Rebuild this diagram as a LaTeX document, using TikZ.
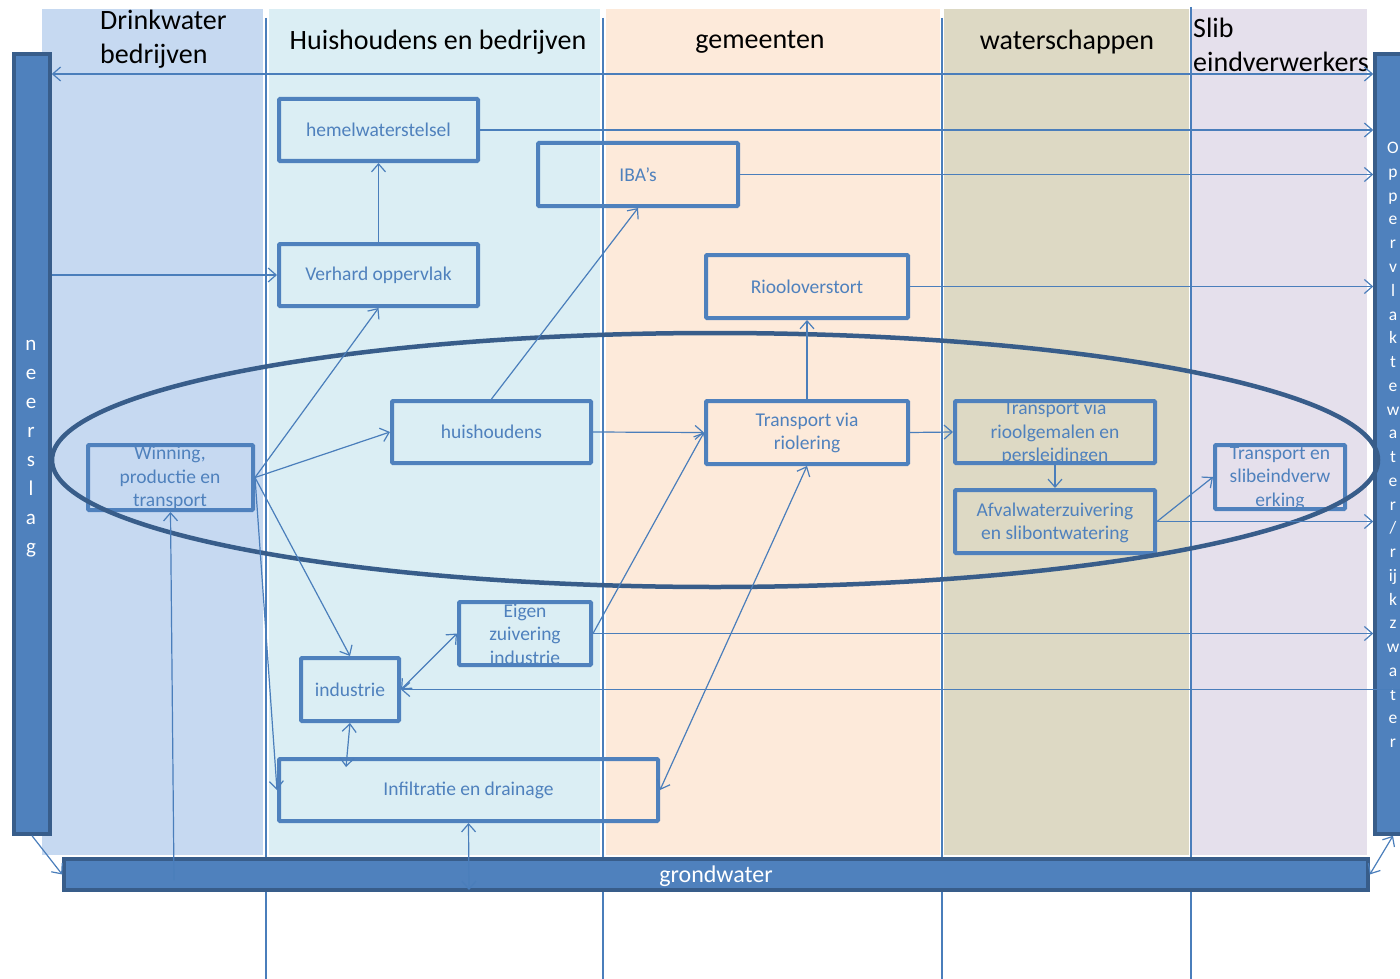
\documentclass[tikz,border=0pt]{standalone}
\usepackage{fontspec}
\setmainfont{Carlito}
\usetikzlibrary{arrows.meta,calc}
\definecolor{bandA}{HTML}{C6D9F1}
\definecolor{bandB}{HTML}{DBEEF4}
\definecolor{bandC}{HTML}{FDEADA}
\definecolor{bandD}{HTML}{DDD9C4}
\definecolor{bandE}{HTML}{E5E0EC}
\definecolor{accent}{HTML}{4F81BD}
\definecolor{accentdark}{HTML}{385D8A}
\definecolor{lineblue}{HTML}{4A7EBB}
\begin{document}
\begin{tikzpicture}[x=1pt,y=-1pt,
  box/.style={draw=accent, line width=4pt, rectangle, rounded corners=1pt, inner sep=0pt},
  lbl/.style={text=accent, font=\fontsize{19.5}{23.5}\selectfont, align=center, inner sep=0pt},
  head/.style={font=\fontsize{28}{34}\selectfont, text=black, inner sep=0pt},
  bar/.style={draw=accentdark, fill=accent, line width=3.5pt, rectangle, inner sep=0pt},
  colline/.style={draw=lineblue, line width=1.5pt},
  flow/.style={draw=lineblue, line width=1.2pt, -{Straight Barb[length=8pt,width=14pt]}},
  flowboth/.style={draw=lineblue, line width=1.2pt, {Straight Barb[length=8pt,width=14pt]}-{Straight Barb[length=8pt,width=14pt]}},
  ring/.style={draw=accentdark, line width=4.5pt}
]
\clip (0,0) rectangle (1400,979);
\fill[white] (0,0) rectangle (1400,979);
% bands
\fill[bandA] (42,9) rectangle (263,855);
\fill[bandB] (269,9) rectangle (600,855);
\fill[bandC] (606,9) rectangle (940,855);
\fill[bandD] (944,9) rectangle (1189,855);
\fill[bandE] (1192,9) rectangle (1367,855);
% column lines
\draw[colline] (266,18) -- (266,979);
\draw[colline] (603,18) -- (603,979);
\draw[colline] (942,18) -- (942,979);
\draw[colline] (1191,7) -- (1191,979);
% headers
\node[head, align=left, anchor=west] (hDrink) at (100,39) {Drinkwater\\bedrijven};
\node[head] (hHuis) at (438,42) {Huishoudens en bedrijven};
\node[head] (hGem) at (760,42) {gemeenten};
\node[head] (hWater) at (1067,42) {waterschappen};
\node[head, align=left, anchor=west] (hSlib) at (1193,45) {Slib\\eindverwerkers};
% bars
\node[bar, minimum width=36pt, minimum height=780pt] (neer) at (32,444) {};
\node[bar, minimum width=36pt, minimum height=780pt] (opp) at (1393,444) {};
\node[bar, minimum width=1304pt, minimum height=31pt] (gw) at (716,874.5) {};
\node[text=white, font=\fontsize{21}{29}\selectfont, align=center, inner sep=0pt] (neerT) at (31,449) {n\\e\\e\\r\\s\\l\\a\\g};
\node[text=white, font=\fontsize{17.5}{23.76}\selectfont, align=center, inner sep=0pt] (oppT) at (1393,445) {O\\p\\p\\e\\r\\v\\l\\a\\k\\t\\e\\w\\a\\t\\e\\r\\/\\r\\ij\\k\\z\\w\\a\\t\\e\\r};
\node[text=white, font=\fontsize{24}{28}\selectfont, inner sep=0pt] (gwT) at (716,876) {grondwater};
% boxes
\node[box, minimum width=199pt, minimum height=62pt] (hem) at (378.5,130) {};
\node[box, minimum width=200pt, minimum height=63pt] (iba) at (638,174.5) {};
\node[box, minimum width=199pt, minimum height=62pt] (verh) at (378.5,275) {};
\node[box, minimum width=202pt, minimum height=63pt] (rioov) at (807,286.5) {};
\node[box, minimum width=199pt, minimum height=62pt] (huis) at (491.5,432) {};
\node[box, minimum width=202pt, minimum height=63pt] (rior) at (807,432.5) {};
\node[box, minimum width=200pt, minimum height=62pt] (gemal) at (1055,432) {};
\node[box, minimum width=165pt, minimum height=65pt] (win) at (170.5,477.5) {};
\node[box, minimum width=200pt, minimum height=63pt] (afval) at (1055,521.5) {};
\node[box, minimum width=130pt, minimum height=64pt] (slibT) at (1280,477) {};
\node[box, minimum width=132pt, minimum height=63pt] (eigen) at (525,633.5) {};
\node[box, minimum width=98pt, minimum height=63pt] (ind) at (350,689.5) {};
\node[box, minimum width=379pt, minimum height=62pt] (infil) at (468.5,790) {};
% box texts
\node[lbl] (hemT) at (hem.center) {hemelwaterstelsel};
\node[lbl] (ibaT) at (iba.center) {IBA’s};
\node[lbl] (verhT) at (verh.center) {Verhard oppervlak};
\node[lbl] (rioovT) at (rioov.center) {Riooloverstort};
\node[lbl] (huisT) at (huis.center) {huishoudens};
\node[lbl] (riorT) at (807,433) {Transport via\\riolering};
\node[lbl] (gemalT) at (1055,433) {Transport via\\rioolgemalen en\\persleidingen};
\node[lbl] (winT) at (170,478) {Winning,\\productie en\\transport};
\node[lbl] (afvalT) at (1055,523) {Afvalwaterzuivering\\en slibontwatering};
\node[lbl] (slibTT) at (1280,478) {Transport en\\slibeindverw\\erking};
\node[lbl] (eigenT) at (525,634) {Eigen\\zuivering\\industrie};
\node[lbl] (indT) at (ind.center) {industrie};
\node[lbl] (infilT) at (infil.center) {Infiltratie en drainage};
% ellipse
\draw[ring] (715,460) ellipse [x radius=663pt, y radius=127pt];
% helper coordinates
\coordinate (topY) at (0,74);
\coordinate (infTop) at (346,767);
\coordinate (gwA) at (469,890);
\coordinate (gwB) at (174,880);
% connectors
\draw[flowboth] (neer.east |- topY) -- (opp.west |- topY);
\draw[flow] (hem.east) -- (hem.east -| opp.west);
\draw[flow] (iba.east) -- (iba.east -| opp.west);
\draw[flow] (rioov.east) -- (rioov.east -| opp.west);
\draw[flow] (neer.east |- verh.west) -- (verh.west);
\draw[flow] (verh.north) -- (hem.south);
\draw[flow] (win.east) -- (verh.south);
\draw[flow] (win.east) -- (huis.west);
\draw[flow] (win.east) -- (ind.north);
\draw[flow] (win.east) -- (infil.west);
\draw[flow] (huis.north) -- (iba.south);
\draw[flow] (huis.east) -- (rior.west);
\draw[flow] (rior.north) -- (rioov.south);
\draw[flow] (rior.east) -- (gemal.west);
\draw[flow] (gemal.south) -- (afval.north);
\draw[flow] (afval.east) -- (slibT.west);
\draw[flow] (afval.east) -- (afval.east -| opp.west);
\draw[flow] (eigen.east) -- (eigen.east -| opp.west);
\draw[flow] (eigen.east) -- (rior.west);
\draw[flowboth] (infil.east) -- (rior.south);
\draw[flow] (opp.east |- ind.east) -- (ind.east);
\draw[flowboth] (ind.east) -- (eigen.west);
\draw[flowboth] (ind.south) -- (infTop);
\draw[flowboth] (infil.south) -- (gwA);
\draw[flow] (gwB) -- (win.south);
\draw[flow] (neer.south) -- (gw.west);
\draw[flowboth] (gw.east) -- (opp.south);
\end{tikzpicture}
\end{document}
